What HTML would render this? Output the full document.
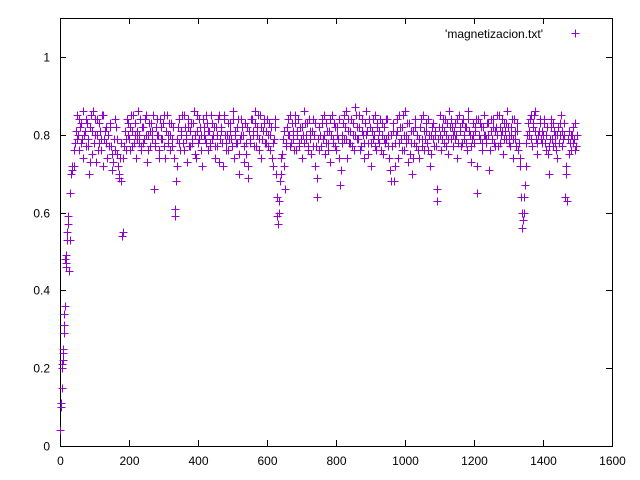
<!DOCTYPE html>
<html><head><meta charset="utf-8"><style>
body{margin:0;background:#fff}
svg{display:block;font-family:"Liberation Sans",sans-serif;font-size:12px}
</style></head><body>
<svg id="chart" width="640" height="480" viewBox="0 0 640 480">
<g id="axes"></g>
<g id="pts"></g>
<g>
<text x="543" y="38" text-anchor="end">'magnetizacion.txt'</text>
<path d="M571.5 33.5h8M575.5 29.5v8" stroke="#9400d3" stroke-width="1"/>
</g>
</svg>
<script>
const xTicks=[0,200,400,600,800,1000,1200,1400,1600];
const yTicks=[0,0.2,0.4,0.6,0.8,1];
const yTickLabels=["0","0.2","0.4","0.6","0.8","1"];
const rampX=[0,2,3,5,6,7,8,9,10,11,12,13,14,15,16,17,18,20,21,22,24,26,28,30,32,34,36];
const rampY=[0.04,0.11,0.10,0.15,0.21,0.20,0.22,0.24,0.25,0.29,0.31,0.34,0.36,0.48,0.47,0.49,0.46,0.53,0.55,0.57,0.59,0.45,0.53,0.65,0.70,0.72,0.71];
const mainStart=40, mainStep=4;
const mainY=[
0.72,0.78,0.85,0.80,0.76,0.83,0.79,0.74,0.81,0.84,0.77,0.70,0.82,0.75,0.86,0.80,0.73,0.84,0.78,0.81,0.76,0.85,0.79,0.82,0.74,
0.80,0.83,0.77,0.71,0.79,0.84,0.75,0.72,0.69,0.78,0.54,0.74,0.81,0.76,0.83,0.79,0.82,0.77,0.85,0.80,0.74,0.81,0.78,0.84,0.76,
0.82,0.79,0.85,0.73,0.80,0.77,0.83,0.81,0.66,0.78,0.84,0.80,0.76,0.82,0.79,0.85,0.74,0.81,0.78,0.83,0.80,0.77,0.82,0.61,0.68,
0.79,0.84,0.76,0.81,0.78,0.85,0.80,0.73,0.82,0.77,0.83,0.79,0.86,0.75,0.81,0.78,0.84,0.80,0.72,0.82,0.79,0.85,0.76,0.81,0.78,
0.83,0.80,0.74,0.82,0.77,0.85,0.79,0.81,0.72,0.84,0.78,0.80,0.76,0.83,0.79,0.86,0.74,0.81,0.78,0.84,0.70,0.80,0.82,0.77,0.83,
0.75,0.69,0.81,0.78,0.84,0.80,0.86,0.77,0.82,0.79,0.85,0.74,0.81,0.83,0.78,0.84,0.80,0.76,0.82,0.72,0.79,0.84,0.64,0.57,0.60,
0.70,0.75,0.81,0.66,0.78,0.84,0.80,0.77,0.83,0.79,0.85,0.76,0.81,0.78,0.82,0.74,0.80,0.86,0.79,0.83,0.77,0.81,0.75,0.84,0.80,
0.72,0.64,0.79,0.82,0.77,0.84,0.80,0.75,0.83,0.78,0.81,0.73,0.85,0.79,0.82,0.76,0.80,0.84,0.67,0.78,0.83,0.79,0.86,0.74,0.81,
0.78,0.84,0.80,0.76,0.87,0.82,0.79,0.85,0.77,0.81,0.74,0.83,0.80,0.78,0.84,0.72,0.81,0.79,0.85,0.76,0.82,0.78,0.84,0.80,0.75,
0.82,0.79,0.84,0.77,0.71,0.80,0.83,0.68,0.78,0.81,0.74,0.85,0.79,0.82,0.76,0.86,0.80,0.73,0.83,0.78,0.70,0.81,0.84,0.77,0.80,
0.74,0.82,0.79,0.85,0.76,0.81,0.78,0.84,0.72,0.80,0.83,0.77,0.81,0.63,0.79,0.85,0.76,0.82,0.78,0.84,0.80,0.75,0.86,0.79,0.82,
0.77,0.83,0.80,0.74,0.85,0.81,0.78,0.84,0.79,0.82,0.76,0.86,0.80,0.73,0.83,0.78,0.81,0.65,0.84,0.79,0.82,0.76,0.85,0.80,0.78,
0.83,0.71,0.81,0.79,0.84,0.77,0.82,0.80,0.85,0.78,0.81,0.75,0.83,0.79,0.86,0.80,0.77,0.82,0.74,0.84,0.79,0.81,0.76,0.72,0.64,
0.56,0.60,0.67,0.78,0.83,0.80,0.85,0.77,0.82,0.86,0.79,0.75,0.81,0.84,0.78,0.80,0.83,0.76,0.82,0.70,0.79,0.84,0.77,0.81,0.78,
0.74,0.82,0.80,0.85,0.77,0.83,0.64,0.72,0.79,0.81,0.76,0.80,0.78,0.83,0.77];
const mainStart2=42;
const mainY2=[
0.76,0.81,0.79,0.84,0.82,0.78,0.86,0.80,0.77,0.83,0.79,0.73,0.85,0.81,0.78,0.84,0.80,0.76,0.83,0.79,0.85,0.72,0.81,0.78,0.80,
0.77,0.82,0.75,0.73,0.76,0.82,0.79,0.70,0.74,0.68,0.55,0.77,0.79,0.84,0.80,0.76,0.85,0.81,0.78,0.83,0.79,0.86,0.80,0.77,0.82,
0.78,0.84,0.80,0.76,0.83,0.81,0.79,0.85,0.77,0.82,0.80,0.74,0.84,0.79,0.83,0.77,0.81,0.85,0.80,0.76,0.83,0.79,0.74,0.59,0.72,
0.82,0.78,0.80,0.85,0.76,0.82,0.79,0.84,0.77,0.81,0.78,0.83,0.80,0.74,0.85,0.79,0.82,0.76,0.84,0.80,0.78,0.83,0.81,0.77,0.85,
0.79,0.82,0.77,0.80,0.84,0.73,0.82,0.78,0.85,0.80,0.76,0.83,0.79,0.81,0.77,0.84,0.80,0.78,0.82,0.75,0.79,0.84,0.80,0.73,0.78,
0.82,0.72,0.79,0.84,0.81,0.77,0.83,0.80,0.85,0.76,0.82,0.79,0.84,0.78,0.81,0.77,0.83,0.80,0.74,0.78,0.82,0.70,0.59,0.63,0.68,
0.74,0.79,0.72,0.77,0.82,0.80,0.85,0.78,0.81,0.76,0.83,0.80,0.84,0.77,0.79,0.82,0.78,0.83,0.80,0.76,0.84,0.79,0.81,0.77,0.83,
0.77,0.69,0.76,0.80,0.83,0.79,0.85,0.78,0.81,0.76,0.84,0.80,0.78,0.83,0.77,0.82,0.79,0.74,0.71,0.80,0.85,0.82,0.79,0.84,0.78,
0.81,0.77,0.83,0.80,0.85,0.79,0.82,0.76,0.84,0.80,0.78,0.86,0.81,0.75,0.82,0.78,0.84,0.80,0.77,0.83,0.79,0.81,0.76,0.83,0.79,
0.78,0.84,0.80,0.74,0.68,0.77,0.81,0.72,0.80,0.84,0.78,0.82,0.76,0.85,0.80,0.78,0.83,0.79,0.75,0.81,0.74,0.78,0.82,0.80,0.76,
0.79,0.84,0.77,0.81,0.79,0.83,0.76,0.80,0.75,0.82,0.79,0.80,0.77,0.66,0.82,0.80,0.79,0.84,0.81,0.77,0.83,0.79,0.82,0.84,0.80,
0.81,0.79,0.84,0.78,0.82,0.77,0.83,0.80,0.82,0.78,0.84,0.81,0.77,0.79,0.80,0.82,0.84,0.72,0.80,0.83,0.78,0.82,0.80,0.79,0.83,
0.80,0.76,0.84,0.82,0.78,0.81,0.85,0.77,0.82,0.80,0.84,0.79,0.81,0.83,0.82,0.78,0.80,0.84,0.79,0.81,0.77,0.83,0.78,0.74,0.60,
0.58,0.64,0.72,0.80,0.81,0.84,0.79,0.83,0.85,0.81,0.78,0.80,0.83,0.79,0.81,0.84,0.78,0.80,0.75,0.77,0.82,0.79,0.83,0.80,0.76,
0.80,0.78,0.83,0.81,0.79,0.80,0.70,0.63,0.75,0.78,0.80,0.82,0.79,0.76,0.80];
const L=60,R=612,T=18,B=446,XMAX=1600,YMAX=1.1;
const sx=v=>L+v/XMAX*(R-L);
const sy=v=>B-v/YMAX*(B-T);
const NS="http://www.w3.org/2000/svg";
const axes=document.getElementById('axes'), pts=document.getElementById('pts');
function mk(tag,attrs,parent){const e=document.createElementNS(NS,tag);for(const k in attrs)e.setAttribute(k,attrs[k]);parent.appendChild(e);return e;}
const frame=mk('rect',{x:L+0.5,y:T+0.5,width:R-L,height:B-T,fill:'none',stroke:'#000','stroke-width':1},axes);


xTicks.forEach(t=>{const x=Math.round(sx(t))+0.5;
 const tk=mk('path',{d:`M${x} ${B}v-6M${x} ${T}v6`,stroke:'#000'},axes);
 
 
 const lb=mk('text',{x:x,y:B+19,'text-anchor':'middle'},axes);lb.textContent=t;
 
 });
yTicks.forEach((t,i)=>{const y=Math.round(sy(t))+0.5;
 const tk=mk('path',{d:`M${L} ${y}h6M${R} ${y}h-6`,stroke:'#000'},axes);
 
 
 const lb=mk('text',{x:L-10,y:y+4,'text-anchor':'end'},axes);lb.textContent=yTickLabels[i];
 
 });
let d='';
function add(xv,yv){const x=Math.round(sx(xv))+0.5,y=Math.round(sy(yv))+0.5;d+=`M${x-4} ${y}h8M${x} ${y-4}v8`;}
rampX.forEach((x,i)=>add(x,rampY[i]));
mainY.forEach((v,i)=>add(mainStart+i*mainStep,v));
mainY2.forEach((v,i)=>add(mainStart2+i*mainStep,v));
const p=mk('path',{d:d,stroke:'#9400d3','stroke-width':1,fill:'none'},pts);


</script>
</body></html>
